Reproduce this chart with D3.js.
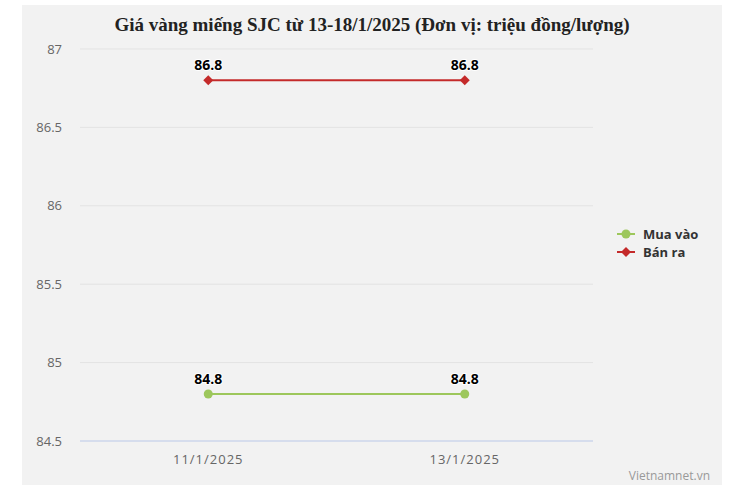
<!DOCTYPE html>
<html><head><meta charset="utf-8">
<script src="https://cdn.jsdelivr.net/npm/d3@7/dist/d3.min.js"></script>
<style>body{margin:0;background:#fff;} svg{display:block;}</style>
</head><body>
<svg id="c" width="735" height="500"></svg>
<script>
const categories = ["11/1/2025", "13/1/2025"];
const muaVao = [84.8, 84.8];
const banRa = [86.8, 86.8];
const yTicks = [84.5, 85, 85.5, 86, 86.5, 87];
const seriesNames = ["Mua vào", "Bán ra"];
const seriesColors = ["#9dc75c", "#c42a2a"];
const titleText = "Giá vàng miếng SJC từ 13-18/1/2025 (Đơn vị: triệu đồng/lượng)";

(function () {
const svg = d3.select("#c");
svg.append("rect").attr("x", 22).attr("y", 5).attr("width", 700).attr("height", 480).attr("fill", "#f2f2f2");

const pLeft = 80, pRight = 593, pTop = 49, pBottom = 441;
const x = d3.scalePoint().domain(categories).range([pLeft, pRight]).padding(0.5);
const y = d3.scaleLinear().domain([84.5, 87]).range([pBottom, pTop]);

svg.append("g").selectAll("line").data(yTicks.slice(1)).join("line")
  .attr("x1", pLeft).attr("x2", pRight)
  .attr("y1", d => y(d)).attr("y2", d => y(d))
  .attr("stroke", "#e3e3e3").attr("stroke-width", 1);
svg.append("line").attr("x1", pLeft).attr("x2", pRight).attr("y1", y(84.5)).attr("y2", y(84.5))
  .attr("stroke", "#ccd6eb").attr("stroke-width", 1.5);

svg.append("g").selectAll("text").data(yTicks).join("text")
  .attr("x", 62).attr("y", d => y(d) + 4.5).attr("text-anchor", "end")
  .attr("font-family", "'Open Sans', sans-serif").attr("font-size", 13).attr("fill", "#666")
  .text(d => d);

svg.append("g").selectAll("text").data(categories).join("text")
  .attr("x", d => x(d)).attr("y", 464).attr("text-anchor", "middle")
  .attr("font-family", "'Open Sans', sans-serif").attr("font-size", 13).attr("fill", "#666")
  .attr("letter-spacing", "1px")
  .text(d => d);

svg.append("text").attr("x", 372).attr("y", 31).attr("text-anchor", "middle")
  .attr("font-family", "'Liberation Serif', 'Times New Roman', serif").attr("font-weight", "bold")
  .attr("font-size", 19).attr("fill", "#222").text(titleText);

const data = [muaVao, banRa];
const line = d3.line().x((d, i) => x(categories[i])).y(d => y(d));
data.forEach((vals, si) => {
  const g = svg.append("g");
  g.append("path").attr("d", line(vals)).attr("fill", "none")
    .attr("stroke", seriesColors[si]).attr("stroke-width", 2);
  if (si === 0) {
    g.selectAll("circle").data(vals).join("circle")
      .attr("cx", (d, i) => x(categories[i])).attr("cy", d => y(d)).attr("r", 4.5)
      .attr("fill", seriesColors[si]);
  } else {
    g.selectAll("path.m").data(vals).join("path").attr("class", "m")
      .attr("transform", (d, i) => `translate(${x(categories[i])},${y(d)})`)
      .attr("d", "M0,-5L5,0L0,5L-5,0Z").attr("fill", seriesColors[si]);
  }
  g.selectAll("text").data(vals).join("text")
    .attr("x", (d, i) => x(categories[i])).attr("y", d => y(d) - 10)
    .attr("text-anchor", "middle")
    .attr("font-family", "'Open Sans', sans-serif").attr("font-weight", "bold")
    .attr("font-size", 14).attr("fill", "#000")
    .attr("stroke", "#fff").attr("stroke-width", 2).attr("paint-order", "stroke")
    .text(d => d);
});

seriesNames.forEach((name, i) => {
  const ly = 234 + i * 18;
  const g = svg.append("g");
  g.append("line").attr("x1", 617).attr("x2", 635).attr("y1", ly).attr("y2", ly)
    .attr("stroke", seriesColors[i]).attr("stroke-width", 2);
  if (i === 0) g.append("circle").attr("cx", 626).attr("cy", ly).attr("r", 4.5).attr("fill", seriesColors[i]);
  else g.append("path").attr("transform", `translate(626,${ly})`).attr("d", "M0,-5L5,0L0,5L-5,0Z").attr("fill", seriesColors[i]);
  g.append("text").attr("x", 643).attr("y", ly + 5)
    .attr("font-family", "'Open Sans', sans-serif").attr("font-weight", "bold")
    .attr("font-size", 13).attr("fill", "#333").text(name);
});

svg.append("text").attr("x", 710).attr("y", 480).attr("text-anchor", "end")
  .attr("font-family", "'Open Sans', sans-serif").attr("font-size", 12).attr("fill", "#999")
  .text("Vietnamnet.vn");
})();
</script>
</body></html>
